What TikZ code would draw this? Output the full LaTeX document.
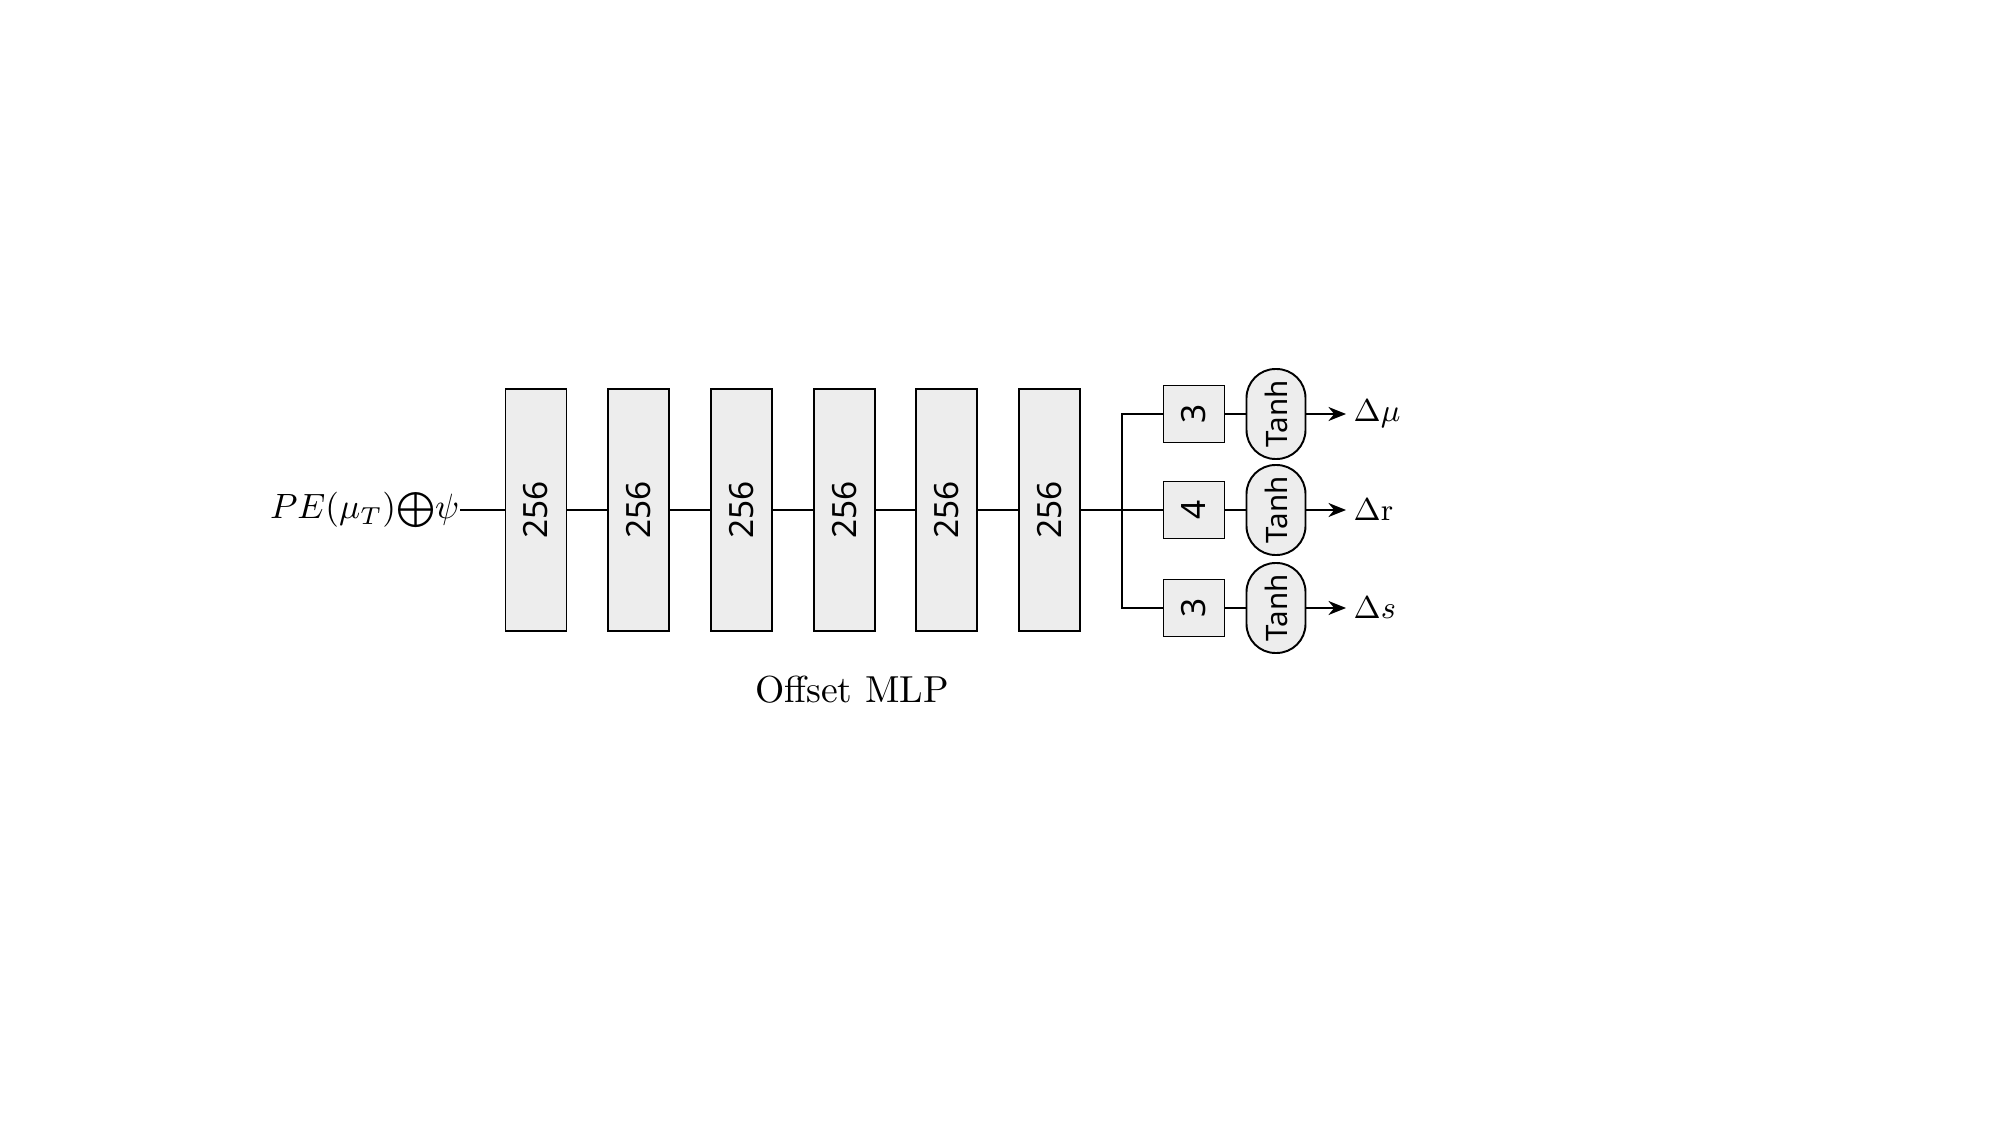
\documentclass[tikz,border=0pt]{standalone}
\usepackage{fontspec}
\usetikzlibrary{arrows.meta}
\newfontfamily\labelfont{Noto Sans}

\begin{document}
\begin{tikzpicture}[
        layer/.style={draw, line width=0.55pt, fill=black!7, rotate=90, inner sep=0pt,
            minimum width=2.42cm, minimum height=0.61cm, font=\labelfont\fontsize{9.5}{11}\selectfont},
        headbox/.style={draw, line width=0.55pt, fill=black!7, rotate=90, inner sep=0pt,
            minimum width=0.57cm, minimum height=0.61cm, font=\labelfont\fontsize{9.5}{11}\selectfont},
        act/.style={draw, line width=0.55pt, fill=black!7, rotate=90, inner sep=0pt,
            rounded corners=0.29cm, minimum width=0.90cm, minimum height=0.59cm,
            font=\labelfont\fontsize{8.4}{10}\selectfont},
        result/.style={anchor=west, inner sep=2pt, font=\fontsize{8.8}{10}\selectfont},
        link/.style={line width=0.4pt},
        outarrow/.style={line width=0.6pt, -{Stealth[length=5pt,width=4pt]}}
    ]
    \useasboundingbox (0,0) rectangle (20,11.25);

    % input
    \node[anchor=east, inner sep=0pt, font=\fontsize{10.3}{12}\selectfont] (in) at (4.60,6.15)
        {$PE(\mu_T){\textstyle\bigoplus}\psi$};

    % hidden layers
    \foreach \i in {1,...,6} {
        \node[layer] (b\i) at ({5.36+1.027*(\i-1)},6.15) {256};
    }
    \draw[link] (in) -- (b1);
    \foreach \i [evaluate=\i as \j using int(\i+1)] in {1,...,5} {
        \draw[link] (b\i) -- (b\j);
    }

    % output heads
    \node[headbox] (s1) at (11.94,7.11) {3};
    \node[headbox] (s2) at (11.94,6.15) {4};
    \node[headbox] (s3) at (11.94,5.17) {3};

    \node[act] (t1) at (12.76,7.11) {Tanh};
    \node[act] (t2) at (12.76,6.15) {Tanh};
    \node[act] (t3) at (12.76,5.17) {Tanh};

    % branch
    \coordinate (br) at (11.22,6.15);
    \draw[link] (b6) -- (s2);
    \draw[link] (s1) -- (s1 -| br) -- (s3 -| br) -- (s3);
    \foreach \k in {1,2,3} {
        \draw[link] (s\k) -- (t\k);
    }

    % outputs
    \node[result] (o1) at (13.46,7.11) {$\Delta\mu$};
    \node[result] (o2) at (13.46,6.15) {$\Delta\mathrm{r}$};
    \node[result] (o3) at (13.46,5.17) {$\Delta s$};
    \draw[outarrow] (t1) -- (o1);
    \draw[outarrow] (t2) -- (o2);
    \draw[outarrow] (t3) -- (o3);

    \node[font=\fontsize{10.7}{13}\selectfont] (cap) at (8.52,4.35) {Offset MLP};
\end{tikzpicture}
\end{document}
